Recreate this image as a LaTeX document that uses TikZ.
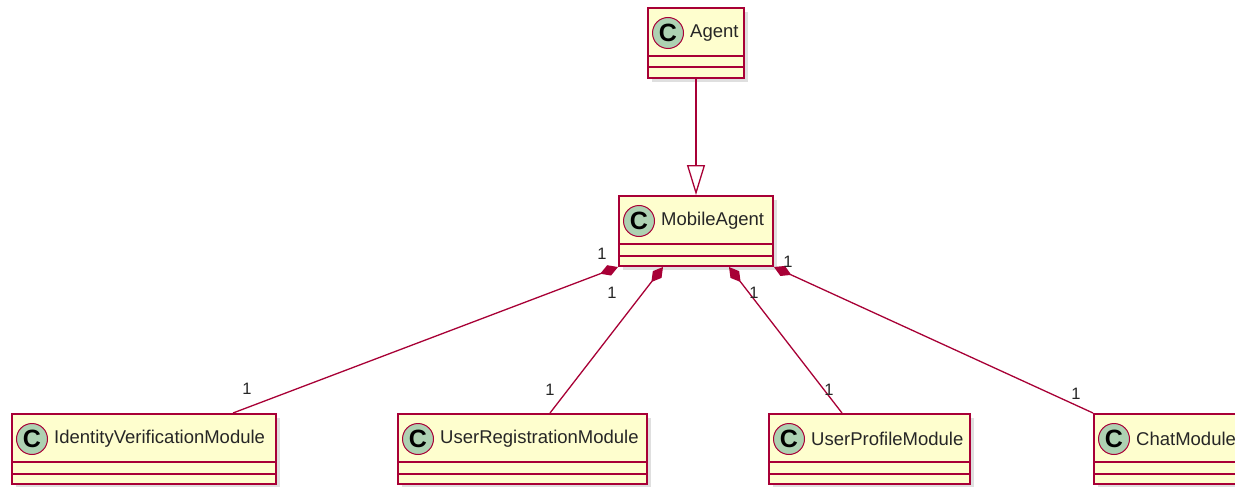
\documentclass[tikz,border=0pt]{standalone}
\usepackage{fontspec}
\setmainfont{Liberation Sans}
\usetikzlibrary{arrows.meta, shadows}
\definecolor{umlred}{HTML}{A80036}
\definecolor{umlyellow}{HTML}{FEFECE}
\definecolor{umlgreen}{HTML}{ADD1B2}
\tikzset{
    classbox/.style={
        rectangle,
        draw=umlred, % 边框
        fill=umlyellow, % 浅黄底色
        line width=2pt,
        minimum height=70pt,
        inner sep=0,
        anchor=north west,
        drop shadow={shadow xshift=4pt, shadow yshift=-4pt, opacity=0.25}
    },
    classicon/.style={
        circle,
        draw=umlred,
        fill=umlgreen,
        line width=1pt,
        minimum size=31pt,
        inner sep=0,
        font=\fontsize{25}{25}\selectfont\bfseries
    },
    classname/.style={
        anchor=west,
        inner sep=0,
        text=black!85,
        font=\fontsize{18.5}{22}\selectfont
    },
    multnode/.style={
        inner sep=0,
        text=black!85,
        font=\fontsize{16.5}{18}\selectfont
    },
    compose/.style={
        draw=umlred,
        line width=1.3pt,
        {Diamond[length=19pt, width=11pt, fill=umlred]}-
    },
    extend/.style={
        draw=umlred,
        line width=1.3pt,
        -{Triangle[open, length=30pt, width=18pt, fill=white]}
    }
}

\begin{document}
\begin{tikzpicture}[x=1pt, y=-1pt]
    \useasboundingbox (0,0) rectangle (1235,487);
    \clip (0,0) rectangle (1235,487);
    \fill[white] (0,0) rectangle (1235,487);

    % 类
    \node[classbox, minimum width=96pt] (agent) at (647,7) {};
    \node[classbox, minimum width=154pt] (mobile) at (618,195) {};
    \node[classbox, minimum width=264pt] (idv) at (11,413) {};
    \node[classbox, minimum width=249pt] (reg) at (397,413) {};
    \node[classbox, minimum width=201pt] (profile) at (768,413) {};
    \node[classbox, minimum width=149pt] (chat) at (1093,413) {};

    \foreach \c/\t in {agent/Agent, mobile/MobileAgent,
                       idv/IdentityVerificationModule, reg/UserRegistrationModule,
                       profile/UserProfileModule, chat/ChatModule} {
        \node[classicon] (\c-icon) at ([xshift=21pt, yshift=-26pt]\c.north west) {C};
        \node[classname] (\c-name) at ([xshift=6pt]\c-icon.east) {\t};
        \draw[umlred, line width=2pt] ([yshift=23pt]\c.south west) -- ([yshift=23pt]\c.south east);
        \draw[umlred, line width=2pt] ([yshift=11.5pt]\c.south west) -- ([yshift=11.5pt]\c.south east);
    }

    % 继承
    \draw[extend] (agent.south) -- (mobile.north);

    % 组合
    \draw[compose] (mobile.south west) -- ([xshift=222pt]idv.north west);
    \draw[compose] ([xshift=45pt]mobile.south west) -- ([xshift=153pt]reg.north west);
    \draw[compose] ([xshift=-45pt]mobile.south east) -- ([xshift=74pt]profile.north west);
    \draw[compose] (mobile.south east) -- (chat.north west);

    % 多重性
    \node[multnode] (m1a) at (602,254) {1};
    \node[multnode] (m2a) at (612,293) {1};
    \node[multnode] (m3a) at (754,293) {1};
    \node[multnode] (m4a) at (788,262) {1};
    \node[multnode] (m1b) at (247,389) {1};
    \node[multnode] (m2b) at (550,390) {1};
    \node[multnode] (m3b) at (829,390) {1};
    \node[multnode] (m4b) at (1076,394) {1};
\end{tikzpicture}
\end{document}
